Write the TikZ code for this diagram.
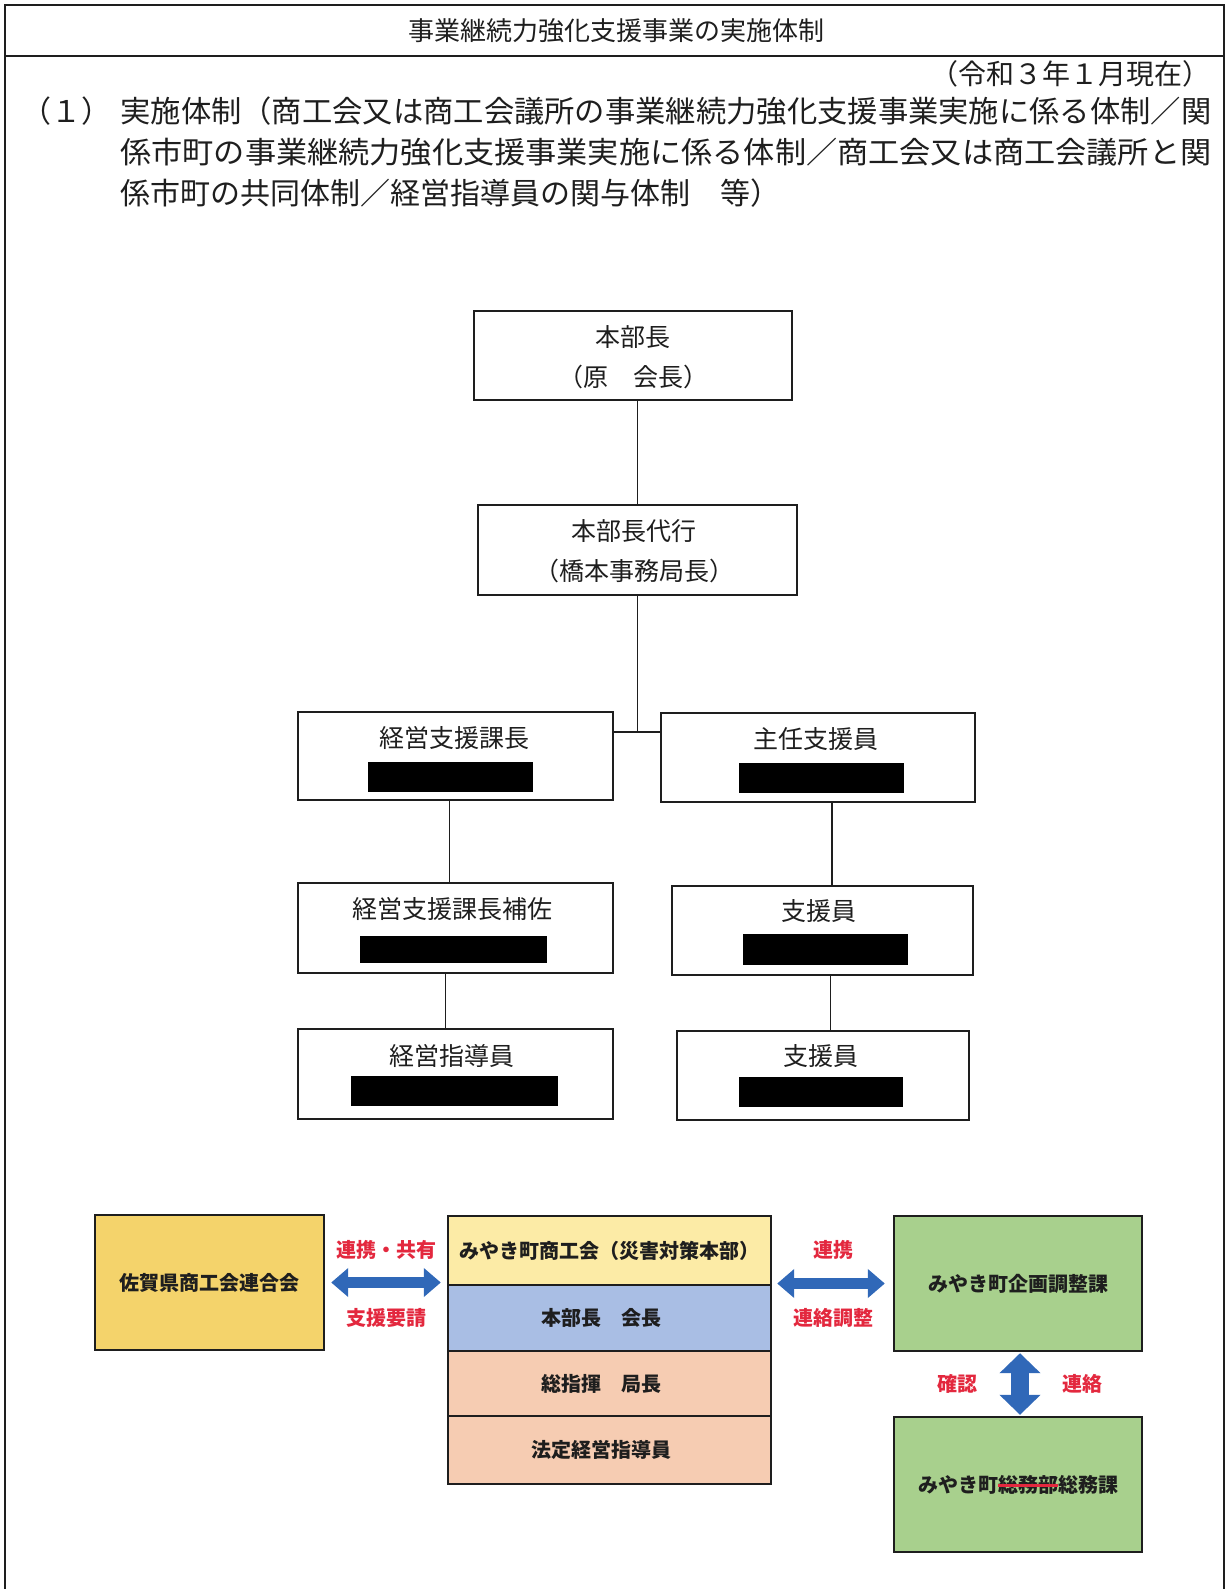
\documentclass[tikz,border=0pt]{standalone}
\usepackage{fontspec}
\setmainfont{Noto Sans CJK JP}
\usepackage{graphicx}
\usetikzlibrary{fit,arrows.meta}
\definecolor{sagay}{HTML}{F4D36B}
\definecolor{rowyel}{HTML}{FCEBA6}
\definecolor{rowblue}{HTML}{A9BEE4}
\definecolor{salmon}{HTML}{F6CCB2}
\definecolor{grn}{HTML}{A8D08D}
\definecolor{arrblue}{HTML}{3068B8}
\definecolor{lblred}{HTML}{E3283E}
\definecolor{ink}{HTML}{1E1E1E}
\newlength\strikelen
\newcommand\redstrike[1]{\settowidth\strikelen{#1}#1\llap{\textcolor{lblred}{\rule[0.26em]{\strikelen}{0.17em}}}}
\begin{document}
\begin{tikzpicture}[x=0.5pt,y=-0.5pt,
  frame/.style={draw=ink, line width=0.9pt},
  body/.style={inner sep=0pt, text=ink, font=\fontsize{15pt}{17pt}\selectfont},
  orgbox/.style={draw=ink, line width=0.8pt, inner sep=0pt},
  orgtxt/.style={inner sep=0pt, text=ink, font=\fontsize{12.5pt}{14pt}\selectfont},
  redact/.style={fill=black, draw=none, inner sep=0pt},
  conn/.style={draw=ink, line width=0.7pt},
  cbox/.style={draw=ink, line width=1.2pt, inner sep=0pt},
  ctxt/.style={inner sep=0pt, text=ink, font=\bfseries\fontsize{10pt}{12pt}\selectfont},
  lbl/.style={inner sep=0pt, text=lblred, font=\bfseries\fontsize{10pt}{12pt}\selectfont},
  harrow/.style={draw=arrblue, line width=5.5pt, {Triangle[length=8.5pt,width=14pt]}-{Triangle[length=8.5pt,width=14pt]}},
  varrow/.style={draw=arrblue, line width=9pt, {Triangle[length=10pt,width=20pt]}-{Triangle[length=10pt,width=20pt]}}
]
\useasboundingbox (0,0) rectangle (1226,1589);
% frame and heading
\draw[frame] (5,1589) -- (5,5) -- (1224,5) -- (1224,1589);
\draw[frame] (5,56) -- (1224,56);
\node[inner sep=0pt, text=ink, font=\fontsize{13pt}{15pt}\selectfont] (title) at (616,31) {事業継続力強化支援事業の実施体制};
\node[inner sep=0pt, anchor=west, text=ink, font=\fontsize{14pt}{16pt}\selectfont] (date) at (930,74) {（令和３年１月現在）};
\node[body, anchor=west] (num) at (21,111) {（１）};
\node[body, anchor=west] (l1) at (120,111) {\resizebox{545.5pt}{\height}{実施体制（商工会又は商工会議所の事業継続力強化支援事業実施に係る体制／関}};
\node[body, anchor=west] (l2) at (120,152) {\resizebox{545.5pt}{\height}{係市町の事業継続力強化支援事業実施に係る体制／商工会又は商工会議所と関}};
\node[body, anchor=west] (l3) at (120,193) {係市町の共同体制／経営指導員の関与体制　等）};
% org chart
\node[orgbox, fit={(474,311) (792,400)}] (b1) {};
\node[orgtxt] (b1a) at (633,337) {本部長};
\node[orgtxt] (b1b) at (633,377) {（原　会長）};
\node[orgbox, fit={(478,505) (797,595)}] (b2) {};
\node[orgtxt] (b2a) at (634,531) {本部長代行};
\node[orgtxt] (b2b) at (634,571) {（橋本事務局長）};
\node[orgbox, fit={(298,712) (613,800)}] (b3) {};
\node[orgtxt] (b3a) at (454,738) {経営支援課長};
\node[redact, fit={(368,762) (533,792)}] (b3r) {};
\node[orgbox, fit={(661,713) (975,802)}] (b4) {};
\node[orgtxt] (b4a) at (816,739) {主任支援員};
\node[redact, fit={(739,763) (904,793)}] (b4r) {};
\node[orgbox, fit={(298,883) (613,973)}] (b5) {};
\node[orgtxt] (b5a) at (452,909) {経営支援課長補佐};
\node[redact, fit={(360,936) (547,963)}] (b5r) {};
\node[orgbox, fit={(672,886) (973,975)}] (b6) {};
\node[orgtxt] (b6a) at (819,911) {支援員};
\node[redact, fit={(743,934) (908,965)}] (b6r) {};
\node[orgbox, fit={(298,1029) (613,1119)}] (b7) {};
\node[orgtxt] (b7a) at (452,1056) {経営指導員};
\node[redact, fit={(351,1076) (558,1106)}] (b7r) {};
\node[orgbox, fit={(677,1031) (969,1120)}] (b8) {};
\node[orgtxt] (b8a) at (821,1056) {支援員};
\node[redact, fit={(739,1077) (903,1107)}] (b8r) {};
\coordinate (j) at (637,732);
\draw[conn] (b2.north |- b1.south) -- (b2.north);
\draw[conn] (b2.south) -- (b2.south |- j);
\draw[conn] (b3.east |- j) -- (b4.west |- j);
\draw[conn] ([xshift=-3pt]b3.south) -- ([xshift=-3pt]b3.south |- b5.north);
\draw[conn] ([xshift=-5pt]b5.south) -- ([xshift=-5pt]b5.south |- b7.north);
\draw[conn] ([xshift=7pt]b4.south) -- ([xshift=7pt]b4.south |- b6.north);
\draw[conn] ([xshift=4pt]b6.south) -- ([xshift=4pt]b6.south |- b8.north);
% bottom section
\node[cbox, fill=sagay, fit={(95,1215) (324,1350)}] (saga) {};
\node[ctxt] (sagat) at (saga.center) {佐賀県商工会連合会};
\node[cbox, fill=rowyel, fit={(448,1216) (771,1285)}] (r1) {};
\node[ctxt] (r1t) at (r1.center) {みやき町商工会（災害対策本部）};
\node[cbox, fill=rowblue, fit={(448,1285) (771,1351)}] (r2) {};
\node[ctxt] (r2t) at ([xshift=-4pt]r2.center) {本部長　会長};
\node[cbox, fill=salmon, fit={(448,1351) (771,1416)}] (r3) {};
\node[ctxt] (r3t) at ([xshift=-4pt]r3.center) {総指揮　局長};
\node[cbox, fill=salmon, fit={(448,1416) (771,1484)}] (r4) {};
\node[ctxt] (r4t) at ([xshift=-4pt]r4.center) {法定経営指導員};
\node[cbox, fill=grn, fit={(894,1216) (1142,1351)}] (g1) {};
\node[ctxt] (g1t) at (g1.center) {みやき町企画調整課};
\node[cbox, fill=grn, fit={(894,1417) (1142,1552)}] (g2) {};
\node[ctxt] (g2t) at (g2.center) {みやき町\redstrike{総務部}総務課};
\draw[harrow, shorten <=3pt, shorten >=3pt] (saga.east) -- (saga.east -| r1.west);
\draw[harrow, shorten <=2.5pt, shorten >=4pt] (r1.east |- g1.west) -- (g1.west);
\draw[varrow, shorten <=0.5pt, shorten >=0.5pt] ([xshift=1pt]g1.south) -- ([xshift=1pt]g2.north);
\node[lbl] (t1) at (386,1250) {連携・共有};
\node[lbl] (t2) at (386,1318) {支援要請};
\node[lbl] (t3) at (833,1250) {連携};
\node[lbl] (t4) at (833,1318) {連絡調整};
\node[lbl] (t5) at (957,1384) {確認};
\node[lbl] (t6) at (1082,1384) {連絡};
\end{tikzpicture}
\end{document}
